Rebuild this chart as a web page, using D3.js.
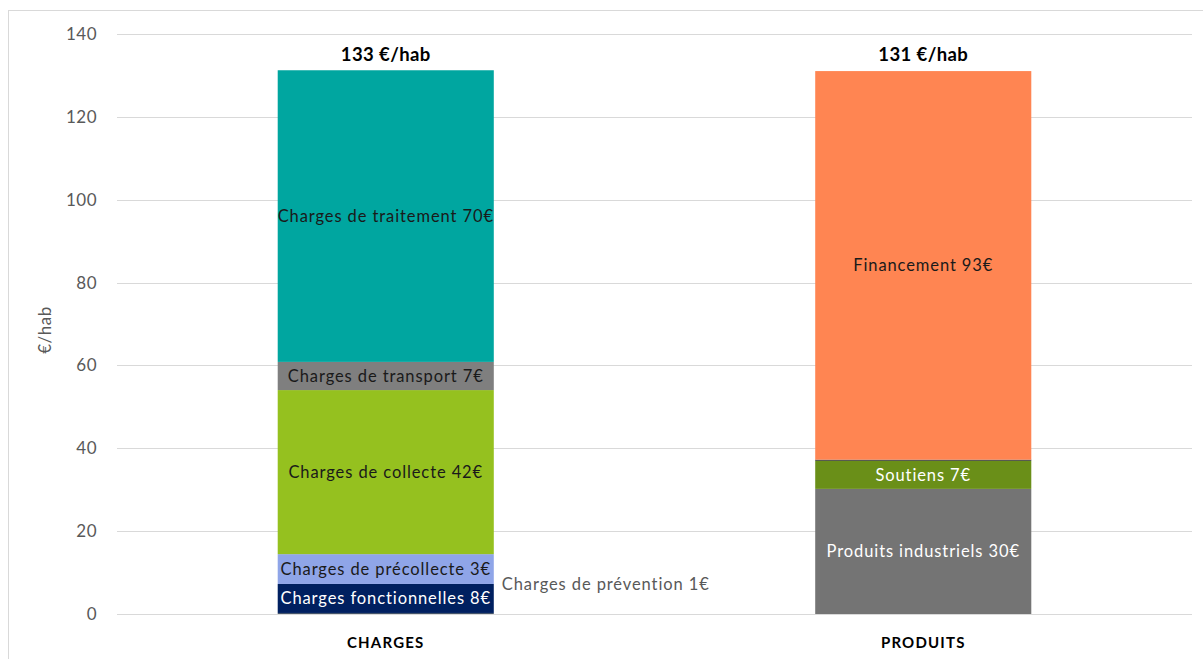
<!DOCTYPE html>
<html>
<head>
<meta charset="utf-8">
<script src="https://cdn.jsdelivr.net/npm/d3@7"></script>
<style>
  body { margin: 0; background: #fff; }
  text { font-family: Lato, "Open Sans", sans-serif; }
</style>
</head>
<body>
<svg id="chart"></svg>
<script>
// categories and totals
var categories = ["CHARGES", "PRODUITS"];
var totalLabels = ["133 €/hab", "131 €/hab"];

// segments of each stacked bar, bottom to top (heights)
var chargesNames = ["Charges de prévention", "Charges fonctionnelles", "Charges de précollecte", "Charges de collecte", "Charges de transport", "Charges de traitement"];
var chargesValues = [0.25, 7.0, 7.2, 39.6, 6.8, 70.4];
var chargesLabels = ["1€", "8€", "3€", "42€", "7€", "70€"];

var produitsNames = ["Produits industriels", "Soutiens", "", "Financement"];
var produitsValues = [30.2, 6.8, 0.25, 93.8];
var produitsLabels = ["30€", "7€", "", "93€"];

var yTicks = [0, 20, 40, 60, 80, 100, 120, 140];

var chargesColors = ["#44546a", "#002060", "#8fa5e8", "#95c11f", "#7f7f7f", "#00a6a0"];
var chargesText = ["#595959", "#ffffff", "#1a1a1a", "#1a1a1a", "#1a1a1a", "#1a1a1a"];
var produitsColors = ["#747474", "#6a8f18", "#262626", "#ff8552"];
var produitsText = ["#ffffff", "#ffffff", "#ffffff", "#1a1a1a"];

var svgWidth = 1203, svgHeight = 659;
var svg = d3.select("#chart").attr("width", svgWidth).attr("height", svgHeight);

// chart border
svg.append("rect")
  .attr("x", 8.5).attr("y", 10.5)
  .attr("width", 1210).attr("height", 700)
  .attr("fill", "none").attr("stroke", "#d9d9d9");

var x = d3.scaleBand()
  .domain(categories)
  .range([117, 1192])
  .paddingInner(0.598)
  .paddingOuter(0.299);

var y = d3.scaleLinear().domain([0, 140]).range([614, 34]);

// gridlines
svg.append("g").selectAll("line")
  .data(yTicks)
  .enter().append("line")
  .attr("x1", 117).attr("x2", 1192)
  .attr("y1", function(d) { return Math.round(y(d)) + 0.5; })
  .attr("y2", function(d) { return Math.round(y(d)) + 0.5; })
  .attr("stroke", "#d9d9d9").attr("stroke-width", 1);

// y tick labels
var yAxis = svg.append("g")
  .attr("transform", "translate(97,0)")
  .call(d3.axisLeft(y).tickValues(yTicks).tickSize(0).tickPadding(0));
yAxis.select(".domain").remove();
yAxis.selectAll("text")
  .attr("fill", "#595959")
  .style("font-size", "17px")
  .style("letter-spacing", "0.5px")
  .style("font-family", "Lato, sans-serif");

svg.append("text")
  .attr("transform", "translate(51,330) rotate(-90)")
  .attr("text-anchor", "middle")
  .attr("fill", "#595959")
  .style("font-size", "17px")
  .style("letter-spacing", "0.5px")
  .text("€/hab");

function drawStack(cat, names, values, labels, colors, textColors) {
  var stacked = [];
  var acc = 0;
  values.forEach(function(v, i) {
    stacked.push({ name: names[i], y0: acc, y1: acc + v, label: labels[i], color: colors[i], tc: textColors[i], i: i });
    acc += v;
  });
  var g = svg.append("g");
  g.selectAll("rect")
    .data(stacked)
    .enter().append("rect")
    .attr("x", x(cat))
    .attr("width", x.bandwidth())
    .attr("y", function(d) { return y(d.y1); })
    .attr("height", function(d) { return y(d.y0) - y(d.y1); })
    .attr("fill", function(d) { return d.color; });
  return stacked;
}

var cs = drawStack("CHARGES", chargesNames, chargesValues, chargesLabels, chargesColors, chargesText);
var ps = drawStack("PRODUITS", produitsNames, produitsValues, produitsLabels, produitsColors, produitsText);

// segment labels
function labelStack(cat, stacked, firstOutside) {
  svg.append("g").selectAll("text")
    .data(stacked.filter(function(d) { return d.name !== ""; }))
    .enter().append("text")
    .attr("x", function(d) {
      if (firstOutside && d.i === 0) return x(cat) + x.bandwidth() + 8;
      return x(cat) + x.bandwidth() / 2;
    })
    .attr("y", function(d) {
      if (firstOutside && d.i === 0) return 584;
      return (y(d.y0) + y(d.y1)) / 2;
    })
    .attr("text-anchor", function(d) { return (firstOutside && d.i === 0) ? "start" : "middle"; })
    .attr("dominant-baseline", "central")
    .attr("fill", function(d) { return d.tc; })
    .style("font-size", "16.5px")
    .style("letter-spacing", "0.9px")
    .text(function(d) { return d.name + " " + d.label; });
}
labelStack("CHARGES", cs, true);
labelStack("PRODUITS", ps, false);

// totals on top
svg.append("g").selectAll("text")
  .data(categories)
  .enter().append("text")
  .attr("x", function(d) { return x(d) + x.bandwidth() / 2; })
  .attr("y", 54)
  .attr("text-anchor", "middle")
  .attr("dominant-baseline", "central")
  .attr("fill", "#000")
  .style("font-size", "18.5px")
  .style("font-weight", "bold")
  .style("letter-spacing", "0.4px")
  .text(function(d, i) { return totalLabels[i]; });

// category labels
svg.append("g").selectAll("text")
  .data(categories)
  .enter().append("text")
  .attr("x", function(d) { return x(d) + x.bandwidth() / 2; })
  .attr("y", 642)
  .attr("text-anchor", "middle")
  .attr("dominant-baseline", "central")
  .attr("fill", "#000")
  .style("font-size", "15px")
  .style("font-weight", "bold")
  .style("letter-spacing", "1.2px")
  .text(function(d) { return d; });
</script>
</body>
</html>
